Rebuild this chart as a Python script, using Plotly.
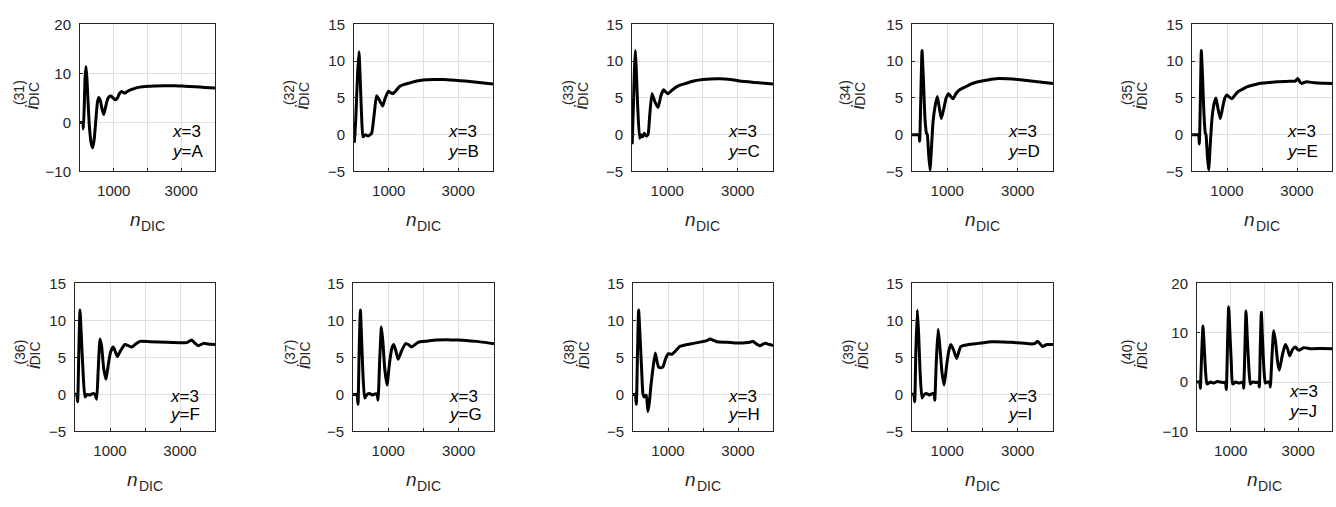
import plotly.graph_objects as go

# ---------------- data ----------------
n31 = [0, 60, 85, 100, 125, 150, 178, 205, 240, 280, 330, 375, 420, 470, 515, 553, 600, 650, 701, 760, 820, 870, 918, 980, 1047, 1110, 1170, 1235, 1290, 1333, 1400, 1480, 1580, 1700, 1850, 1975, 2200, 2500, 2800, 3100, 3400, 3700, 4000]
i31 = [0, 0, 0, -1.3, 3, 9, 11.4, 9, 4, -1, -4.2, -5.2, -3.5, 0.5, 4, 5.1, 4.5, 2.8, 1.6, 3.2, 4.8, 5.3, 5.4, 5.0, 4.6, 5.0, 5.9, 6.3, 6.1, 6.0, 6.3, 6.6, 6.85, 7.1, 7.3, 7.35, 7.45, 7.5, 7.5, 7.4, 7.3, 7.15, 7.0]

n32 = [10, 50, 100, 144, 175, 215, 260, 330, 400, 470, 510, 575, 650, 720, 823, 900, 986, 1060, 1129, 1210, 1320, 1450, 1608, 1800, 1990, 2300, 2565, 2900, 3200, 3600, 4000]
i32 = [-1.1, 2, 8, 11.3, 8, 3, -0.3, 0, -0.2, 0, 0.2, 2.5, 5.3, 4.8, 3.9, 5.0, 5.9, 5.7, 5.6, 6.0, 6.6, 6.85, 7.05, 7.3, 7.45, 7.5, 7.5, 7.4, 7.3, 7.1, 6.9]

n33 = [5, 40, 70, 95, 120, 160, 217, 260, 300, 350, 400, 454, 500, 567, 640, 738, 820, 898, 960, 1021, 1100, 1258, 1400, 1541, 1750, 2014, 2487, 2800, 3054, 3500, 4000]
i33 = [-1.3, 4, 9, 11.45, 9, 4, -0.5, 0, -0.3, 0.2, -0.2, 0, 2.5, 5.57, 4.6, 3.7, 5.3, 6.1, 5.8, 5.57, 5.9, 6.5, 6.8, 7.0, 7.3, 7.5, 7.6, 7.5, 7.3, 7.1, 6.9]

n34 = [0, 100, 180, 200, 217, 250, 284, 320, 370, 410, 435, 470, 511, 550, 596, 660, 719, 780, 832, 900, 970, 1040, 1100, 1163, 1250, 1352, 1494, 1650, 1872, 2150, 2440, 2700, 3007, 3500, 4000]
i34 = [0, 0, 0, 0, -0.9, 5, 11.45, 8, 2, 0.2, 0, -2.5, -4.8, -2, 1.7, 4, 5.2, 3.5, 2.2, 3.5, 5.0, 5.57, 5.2, 4.87, 5.6, 6.1, 6.45, 6.85, 7.2, 7.45, 7.63, 7.6, 7.5, 7.25, 6.97]

n35 = [0, 100, 170, 190, 209, 240, 266, 300, 340, 380, 400, 440, 475, 520, 570, 630, 684, 740, 808, 880, 940, 998, 1070, 1140, 1230, 1330, 1450, 1568, 1750, 1948, 2200, 2423, 2700, 2950, 3021, 3080, 3135, 3200, 3280, 3500, 3800, 4000]
i35 = [0, 0, 0, 0, -1.27, 5, 11.45, 8, 3, 0.2, 0, -3, -4.8, -1.5, 2.15, 4.2, 5.0, 3.6, 2.2, 3.8, 5.0, 5.4, 5.1, 4.87, 5.4, 5.9, 6.2, 6.5, 6.75, 7.0, 7.1, 7.2, 7.25, 7.3, 7.63, 7.2, 6.97, 7.1, 7.2, 7.05, 7.0, 6.97]

n36 = [0, 50, 76, 110, 143, 180, 230, 286, 350, 420, 500, 570, 619, 660, 714, 760, 820, 886, 950, 1020, 1095, 1150, 1210, 1300, 1429, 1520, 1619, 1730, 1857, 2143, 2619, 3000, 3190, 3333, 3430, 3524, 3667, 3800, 4000]
i36 = [0, 0, -1.0, 6, 11.4, 8, 3, -0.35, 0, -0.1, 0.1, 0, -0.65, 3, 7.5, 6.5, 3.5, 2.05, 4, 5.8, 6.4, 5.8, 5.1, 5.9, 6.75, 6.6, 6.4, 6.8, 7.17, 7.13, 7.04, 7.0, 7.0, 7.35, 6.9, 6.57, 6.9, 6.8, 6.74]

n37 = [0, 100, 114, 142, 175, 209, 240, 280, 332, 400, 480, 560, 640, 683, 711, 760, 806, 850, 900, 967, 1030, 1100, 1156, 1220, 1280, 1380, 1498, 1580, 1659, 1750, 1848, 2100, 2370, 2650, 2938, 3200, 3507, 3800, 4000]
i37 = [0, 0, 0, -1.35, 6, 11.4, 8, 3, -0.48, 0, 0.1, -0.1, 0.1, 0, -0.78, 5, 9.13, 7, 3.5, 1.26, 4, 6.2, 6.74, 5.8, 4.74, 5.9, 6.9, 6.7, 6.4, 6.7, 7.04, 7.2, 7.35, 7.4, 7.35, 7.3, 7.17, 7.0, 6.83]

n38 = [0, 50, 66, 95, 130, 161, 200, 250, 284, 322, 379, 405, 427, 470, 512, 570, 635, 680, 730, 790, 853, 930, 1014, 1109, 1220, 1346, 1500, 1725, 1950, 2104, 2199, 2300, 2389, 2700, 2957, 3200, 3336, 3431, 3530, 3621, 3763, 3900, 4000]
i38 = [0, 0, 0, -1.35, 6, 11.4, 8, 3, 0.1, -0.35, -0.1, -1.2, -2.3, -1, 1.2, 3.5, 5.6, 4.6, 3.7, 3.6, 3.7, 4.8, 5.5, 5.43, 5.9, 6.5, 6.7, 6.9, 7.1, 7.26, 7.48, 7.3, 7.13, 7.05, 6.96, 7.0, 7.04, 7.17, 6.8, 6.57, 6.9, 6.75, 6.6]

n39 = [0, 50, 76, 110, 152, 190, 230, 285, 350, 420, 500, 570, 627, 646, 690, 741, 790, 850, 912, 980, 1040, 1102, 1180, 1264, 1387, 1596, 1881, 2261, 2600, 2831, 3100, 3401, 3490, 3572, 3640, 3705, 3829, 4000]
i39 = [0, 0, -1.0, 6, 11.4, 8, 3, -0.48, 0, 0.1, -0.1, 0.1, 0, -0.78, 4.5, 8.8, 6.5, 3, 1.26, 3.8, 5.8, 6.74, 6.0, 4.87, 6.48, 6.74, 6.9, 7.13, 7.1, 7.04, 6.95, 6.83, 6.9, 7.17, 6.8, 6.48, 6.74, 6.74]

n40 = [0, 80, 99, 140, 178, 215, 255, 296, 400, 500, 600, 700, 800, 840, 869, 905, 938, 975, 1015, 1057, 1150, 1250, 1363, 1383, 1420, 1452, 1490, 1535, 1580, 1650, 1750, 1827, 1847, 1875, 1906, 1945, 1985, 2025, 2100, 2153, 2173, 2220, 2272, 2330, 2390, 2440, 2530, 2617, 2680, 2746, 2830, 2914, 2970, 3032, 3160, 3358, 3700, 4000]
i40 = [0, 0, -1.24, 6, 11.35, 7, 2, -0.4, 0, -0.2, 0.1, 0, -0.1, 0, -1.5, 8, 15.26, 10, 4, -0.4, 0, -0.2, 0, -1.24, 7, 14.4, 9, 3, -0.4, 0, -0.1, 0, -1.0, 7, 14.15, 8, 2.5, -0.2, 0, 0, -1.0, 5, 10.4, 8, 4, 2.4, 5.5, 7.6, 6.8, 5.3, 6.6, 7.1, 6.7, 6.46, 6.98, 6.78, 6.8, 6.78]

panel_ids = ["31", "32", "33", "34", "35", "36", "37", "38", "39", "40"]
y_letters = ["A", "B", "C", "D", "E", "F", "G", "H", "I", "J"]
x_value = "3"
series_n = [n31, n32, n33, n34, n35, n36, n37, n38, n39, n40]
series_i = [i31, i32, i33, i34, i35, i36, i37, i38, i39, i40]

x_range = [0, 4000]
x_tickvals = [1000, 3000]
x_ticktext = ["1000", "3000"]
y_ranges = [[-10, 20], [-5, 15], [-5, 15], [-5, 15], [-5, 15],
            [-5, 15], [-5, 15], [-5, 15], [-5, 15], [-10, 20]]
y_ticks_wide = [-10, 0, 10, 20]
y_ticks_norm = [-5, 0, 5, 10, 15]

# ---------------- layout (pixel geometry) ----------------
W, H = 1336, 507
lefts = [80, 354, 632, 912, 1192, 75, 353, 633, 912, 1197]
rights = [215, 493, 773, 1053, 1332, 215, 494, 773, 1053, 1332]
tops = [16] * 5 + [284] * 5
bottoms = [168] * 5 + [437] * 5
ylab_x = [32, 302, 581, 858, 1140, 33, 303, 582, 861, 1140]
txt_y1 = [0.27] * 5 + [0.235] * 4 + [0.27]
txt_y2 = [0.135] * 5 + [0.115] * 4 + [0.135]

FONT = "Liberation Sans, Arial, sans-serif"
AX = "#262626"
GRID = "#dfdfdf"


def px(x):
    return x / W


def py(y):
    return 1 - y / H


def label(x, y, text, size, angle=0):
    return dict(xref="paper", yref="paper", x=px(x), y=py(y),
                xanchor="center", yanchor="middle", textangle=angle,
                text=text, showarrow=False,
                font=dict(family=FONT, size=size, color=AX))


fig = go.Figure()
layout = dict(
    width=W, height=H, autosize=False,
    margin=dict(l=0, r=0, t=0, b=0),
    paper_bgcolor="white", plot_bgcolor="white",
    showlegend=False,
    font=dict(family=FONT, size=15, color=AX),
)
annotations = []

for k in range(10):
    idx = k + 1
    xa = "x" if idx == 1 else f"x{idx}"
    ya = "y" if idx == 1 else f"y{idx}"
    fig.add_trace(go.Scatter(
        x=series_n[k], y=series_i[k], mode="lines",
        line=dict(color="black", width=3, shape="spline", smoothing=0.5),
        xaxis=xa, yaxis=ya, hoverinfo="skip",
    ))
    ytv = y_ticks_wide if y_ranges[k][0] == -10 else y_ticks_norm
    layout[f"xaxis{idx}"] = dict(
        domain=[px(lefts[k]), px(rights[k])], anchor=ya, range=x_range,
        tickvals=x_tickvals, ticktext=x_ticktext,
        showgrid=True, gridcolor=GRID, gridwidth=1, zeroline=False,
        showline=True, linecolor=AX, linewidth=1, mirror=True,
        ticks="inside", ticklen=3, tickcolor=AX,
        minor=dict(tick0=0, dtick=1000, showgrid=True, gridcolor=GRID,
                   gridwidth=1, ticks="inside", ticklen=3, tickcolor=AX),
        tickfont=dict(family=FONT, size=15, color=AX),
        ticklabelstandoff=6, fixedrange=True,
    )
    layout[f"yaxis{idx}"] = dict(
        domain=[py(bottoms[k]), py(tops[k])], anchor=xa, range=y_ranges[k],
        tickvals=ytv,
        showgrid=True, gridcolor=GRID, gridwidth=1, zeroline=False,
        showline=True, linecolor=AX, linewidth=1, mirror=True,
        ticks="inside", ticklen=3, tickcolor=AX,
        tickfont=dict(family=FONT, size=15, color=AX),
        ticklabelstandoff=5, fixedrange=True,
    )
    dref_x = f"{xa} domain"
    dref_y = f"{ya} domain"
    annotations.append(dict(
        xref=dref_x, yref=dref_y, x=0.665, y=txt_y1[k], xanchor="left", yanchor="middle",
        text=f"<i>x</i>={x_value}", showarrow=False,
        font=dict(family=FONT, size=17, color="black")))
    annotations.append(dict(
        xref=dref_x, yref=dref_y, x=0.665, y=txt_y2[k], xanchor="left", yanchor="middle",
        text=f"<i>y</i>={y_letters[k]}", showarrow=False,
        font=dict(family=FONT, size=17, color="black")))
    # x label  n_DIC
    cx = (lefts[k] + rights[k]) / 2
    annotations.append(label(cx - 12.5, bottoms[k] + 50, "<i>n</i>", 19))
    annotations.append(label(cx + 5.5, bottoms[k] + 57, "DIC", 14))
    # y label  i^(NN)_DIC  (stacked super/subscript)
    cy = (tops[k] + bottoms[k]) / 2
    lx = ylab_x[k]
    annotations.append(label(lx, cy + 10, "<i>i</i>", 19, -90))
    annotations.append(label(lx - 13, cy - 5, f"({panel_ids[k]})", 14, -90))
    annotations.append(label(lx + 2, cy - 4, "DIC", 14, -90))

layout["annotations"] = annotations
fig.update_layout(**layout)
fig.write_html("out.html")
